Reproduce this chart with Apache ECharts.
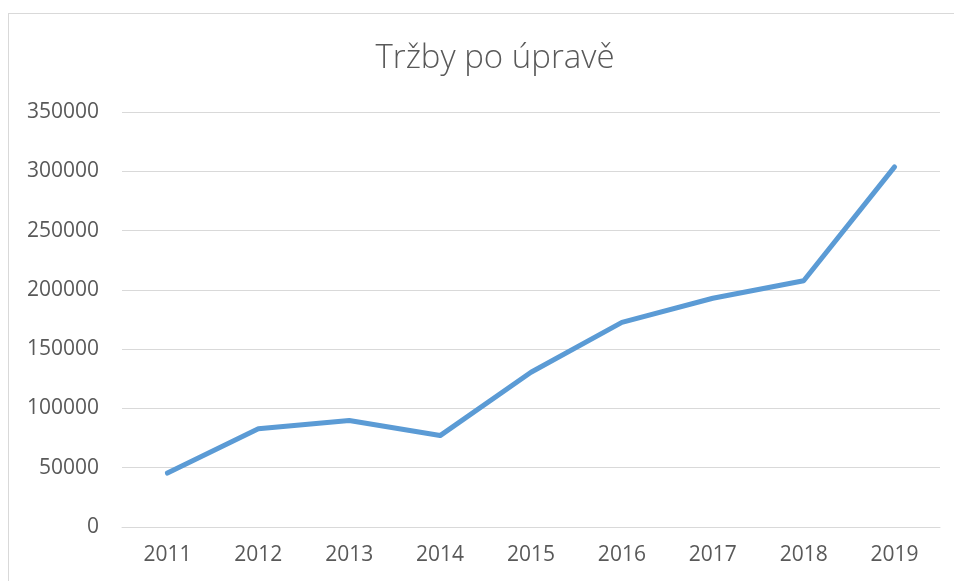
<!DOCTYPE html>
<html>
<head>
<meta charset="utf-8">
<script src="https://cdn.jsdelivr.net/npm/echarts@6/dist/echarts.min.js"></script>
<style>
html,body{margin:0;padding:0;background:#fff;}
#wrap{position:relative;width:954px;height:581px;overflow:hidden;}
#frame{position:absolute;left:8px;top:13px;width:960px;height:600px;border:1px solid #d9d9d9;box-sizing:border-box;}
#chart{position:absolute;left:0;top:0;width:954px;height:581px;}
</style>
</head>
<body>
<div id="wrap"><div id="frame"></div><div id="chart"></div></div>
<script>
const titleText = 'Tržby po úpravě';
const categories = ['2011','2012','2013','2014','2015','2016','2017','2018','2019'];
const values = [45500, 82800, 89800, 77100, 130500, 172600, 192900, 207700, 303700];
const yMin = 0, yMax = 350000, yStep = 50000;

const chart = echarts.init(document.getElementById('chart'), null, {renderer:'canvas'});
chart.setOption({
  animation: false,
  title: {
    text: titleText,
    left: 490, top: 37, textAlign: 'center',
    textStyle: {fontFamily: 'Open Sans', fontWeight: 300, fontSize: 33, color: '#595959'}
  },
  grid: {left: 122, right: 14, top: 112, bottom: 54, containLabel: false},
  xAxis: {
    type: 'category',
    data: categories,
    boundaryGap: true,
    axisLine: {lineStyle: {color: '#d9d9d9', width: 1}},
    axisTick: {show: false},
    axisLabel: {color: '#595959', fontSize: 21, fontFamily: 'Open Sans', margin: 18}
  },
  yAxis: {
    type: 'value',
    min: yMin, max: yMax, interval: yStep,
    axisLine: {show: false},
    axisTick: {show: false},
    splitLine: {lineStyle: {color: '#d9d9d9', width: 1}},
    axisLabel: {color: '#595959', fontSize: 21, fontFamily: 'Open Sans', margin: 23,
      formatter: function (v) { return String(v); }}
  },
  series: [{
    type: 'line',
    data: values,
    symbol: 'none',
    lineStyle: {color: '#5b9bd5', width: 5, cap: 'round', join: 'round'},
    itemStyle: {color: '#5b9bd5'}
  }]
});
</script>
</body>
</html>
